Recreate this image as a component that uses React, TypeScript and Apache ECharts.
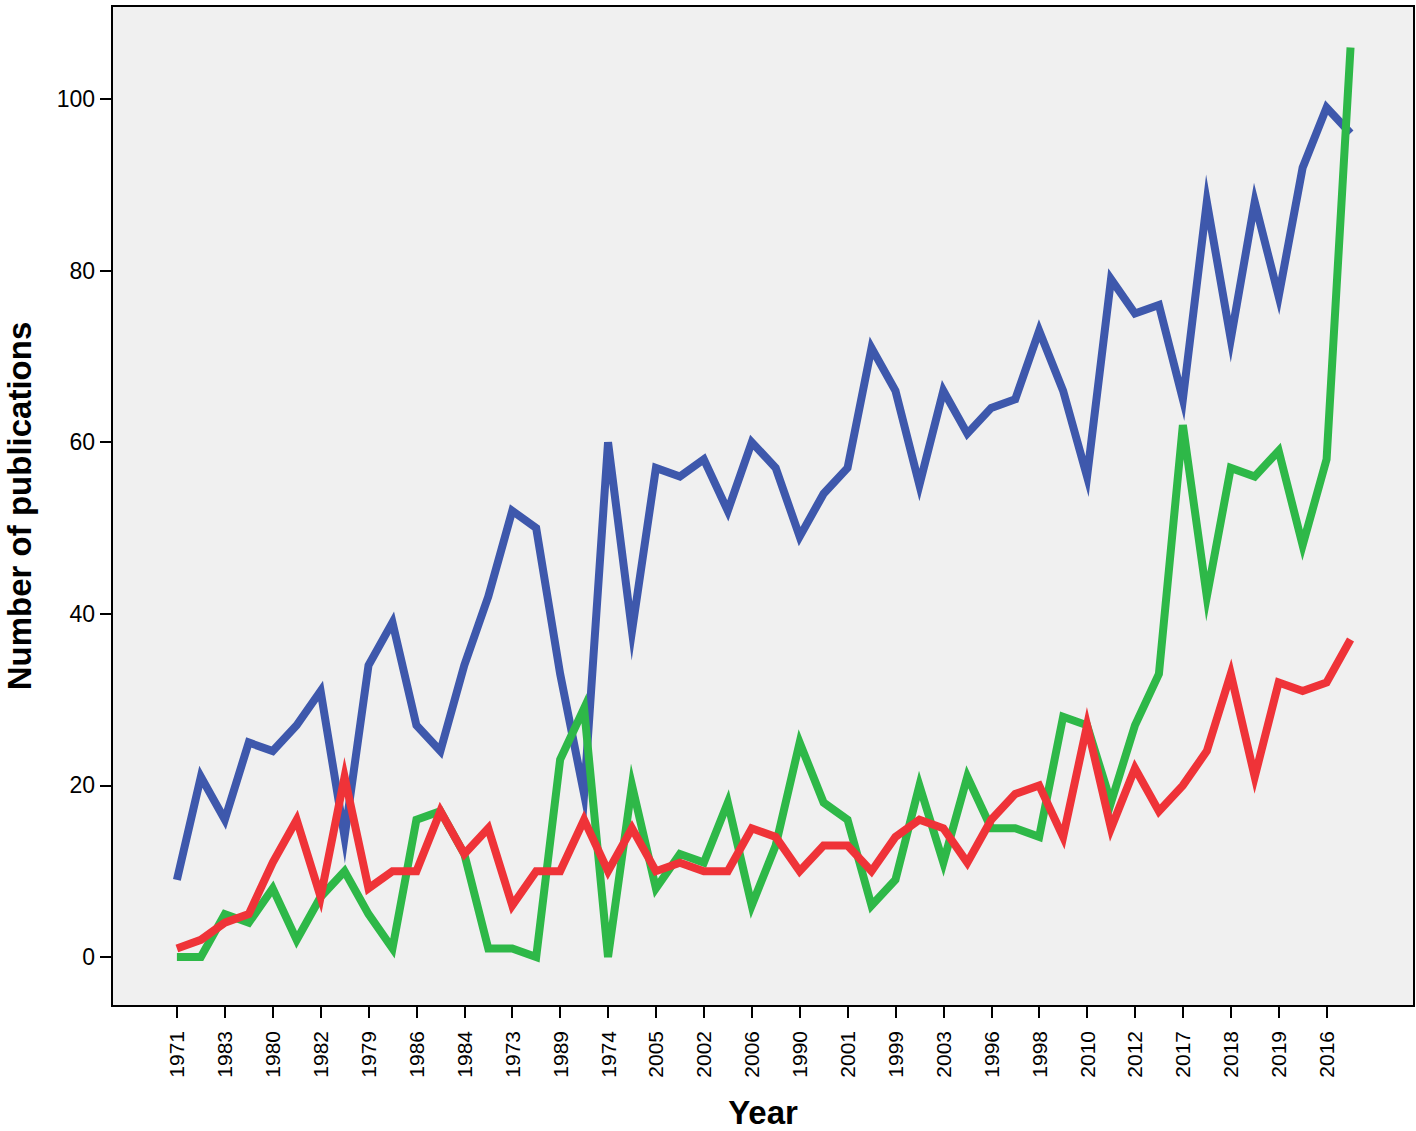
import React, { useEffect, useRef } from "react";
import * as echarts from "echarts";

const categories = [
  "1971", "1972", "1983", "1975", "1980", "1976", "1982", "1977", "1979", "1978",
  "1986", "1981", "1984", "1985", "1973", "1987", "1989", "1988", "1974", "1991",
  "2005", "1992", "2002", "1993", "2006", "1994", "1990", "1995", "2001", "1997",
  "1999", "2000", "2003", "2004", "1996", "2007", "1998", "2008", "2010", "2009",
  "2012", "2011", "2017", "2013", "2018", "2014", "2019", "2015", "2016", "2020",
];

const blueValues = [
  9, 21, 16, 25, 24, 27, 31, 14, 34, 39,
  27, 24, 34, 42, 52, 50, 33, 19, 60, 38,
  57, 56, 58, 52, 60, 57, 49, 54, 57, 71,
  66, 55, 66, 61, 64, 65, 73, 66, 56, 79,
  75, 76, 65, 88, 72, 88, 77, 92, 99, 96,
];

const greenValues = [
  0, 0, 5, 4, 8, 2, 7, 10, 5, 1,
  16, 17, 12, 1, 1, 0, 23, 29, 0, 20,
  8, 12, 11, 18, 6, 13, 25, 18, 16, 6,
  9, 20, 11, 21, 15, 15, 14, 28, 27, 18,
  27, 33, 62, 42, 57, 56, 59, 48, 58, 106,
];

const redValues = [
  1, 2, 4, 5, 11, 16, 7, 21, 8, 10,
  10, 17, 12, 15, 6, 10, 10, 16, 10, 15,
  10, 11, 10, 10, 15, 14, 10, 13, 13, 10,
  14, 16, 15, 11, 16, 19, 20, 14, 27, 15,
  22, 17, 20, 24, 33, 21, 32, 31, 32, 37,
];

const yTicks = [0, 20, 40, 60, 80, 100];
const xTickIndices = categories.map((_, i) => i).filter((i) => i % 2 === 0);

const FONT = "'Liberation Sans', Arial, sans-serif";

export default function App() {
  const ref = useRef<HTMLDivElement>(null);

  useEffect(() => {
    if (!ref.current) return;
    const chart = echarts.init(ref.current, undefined, { renderer: "svg" });
    const mk = (vals: number[], color: string, name: string) => ({
      type: "line",
      name,
      data: vals.map((v, i) => [i, v]),
      showSymbol: false,
      symbol: "none",
      lineStyle: { color, width: 8, cap: "butt", join: "miter", miterLimit: 8 },
      emphasis: { disabled: true },
    });
    chart.setOption({
      animation: false,
      backgroundColor: "#ffffff",
      grid: {
        left: 112,
        top: 6,
        right: 2,
        bottom: 125,
        containLabel: false,
        outerBoundsMode: "none",
        show: true,
        backgroundColor: "#F0F0F0",
        borderColor: "#000",
        borderWidth: 2,
      },
      xAxis: {
        type: "value",
        min: -2.71,
        max: 51.65,
        name: "Year",
        nameLocation: "middle",
        nameGap: 90,
        nameTextStyle: {
          fontFamily: FONT,
          fontWeight: "bold",
          fontSize: 33,
          lineHeight: 33,
          color: "#000",
        },
        axisLine: { show: false, onZero: false },
        splitLine: { show: false },
        axisTick: {
          show: true,
          length: 12,
          lineStyle: { color: "#000", width: 2 },
          customValues: xTickIndices,
        },
        axisLabel: {
          rotate: 90,
          margin: 25,
          fontFamily: FONT,
          fontSize: 21,
          color: "#000",
          customValues: xTickIndices,
          formatter: (v: number) => categories[Math.round(v)] ?? "",
        },
      },
      yAxis: {
        type: "value",
        min: -5.71,
        max: 110.84,
        name: "Number of publications",
        nameLocation: "middle",
        nameGap: 76,
        nameTextStyle: {
          fontFamily: FONT,
          fontWeight: "bold",
          fontSize: 33,
          lineHeight: 33,
          color: "#000",
        },
        axisLine: { show: false, onZero: false },
        splitLine: { show: false },
        axisTick: {
          show: true,
          length: 12,
          lineStyle: { color: "#000", width: 2 },
          customValues: yTicks,
        },
        axisLabel: {
          margin: 17,
          fontFamily: FONT,
          fontSize: 23,
          color: "#000",
          customValues: yTicks,
        },
      },
      series: [
        mk(blueValues, "#3E58AC", "Blue"),
        mk(greenValues, "#2EB848", "Green"),
        mk(redValues, "#EF3338", "Red"),
      ],
    });
    return () => chart.dispose();
  }, []);

  return (
    <div
      ref={ref}
      style={{ position: "absolute", left: 0, top: 0, width: 1416, height: 1131 }}
    />
  );
}
